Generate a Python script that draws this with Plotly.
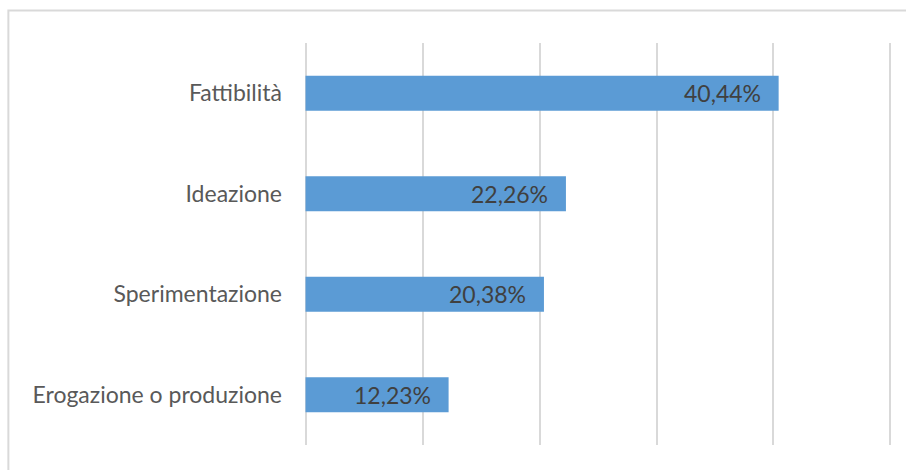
import plotly.graph_objects as go

# Share of projects by phase (%)
categories = ["Fattibilità", "Ideazione", "Sperimentazione", "Erogazione o produzione"]
values = [40.44, 22.26, 20.38, 12.23]
gridlines = [0, 10, 20, 30, 40, 50]

bar_color = "#5B9BD5"
font_family = "Lato, 'Open Sans', sans-serif"

fig = go.Figure()
fig.add_trace(go.Bar(
    y=categories,
    x=values,
    orientation="h",
    marker=dict(color=bar_color, line=dict(width=0)),
    hoverinfo="skip",
))

# value labels, right-aligned inside each bar end
for cat, val in zip(categories, values):
    fig.add_annotation(
        x=val, y=cat, xref="x", yref="y",
        text=f"{val:.2f}%".replace(".", ","),
        showarrow=False, xanchor="right", yanchor="middle",
        xshift=-16, yshift=0,
        font=dict(family=font_family, size=23, color="#404040"),
    )

# outer chart frame (only top and left edges fall inside the page)
fig.add_shape(
    type="rect", xref="paper", yref="paper",
    x0=-0.496, x1=1.05, y0=-0.1, y1=1.081,
    line=dict(color="#D9D9D9", width=2), fillcolor="rgba(0,0,0,0)",
    layer="below",
)

fig.update_layout(
    width=906, height=470,
    margin=dict(l=302, r=12, t=43, b=25),
    paper_bgcolor="white", plot_bgcolor="white",
    bargap=0.65,
    showlegend=False,
    xaxis=dict(
        range=[-0.3, 50.3], tickvals=gridlines, showticklabels=False,
        showgrid=True, gridcolor="#D9D9D9", gridwidth=1.5,
        zeroline=True, zerolinecolor="#D9D9D9", zerolinewidth=1.5,
        showline=False, fixedrange=True,
    ),
    yaxis=dict(
        categoryorder="array", categoryarray=categories[::-1],
        showgrid=False, zeroline=False, showline=False,
        ticks="", ticklabelstandoff=19,
        tickfont=dict(family=font_family, size=23, color="#595959"),
        fixedrange=True,
    ),
)

fig.write_html("out.html")
